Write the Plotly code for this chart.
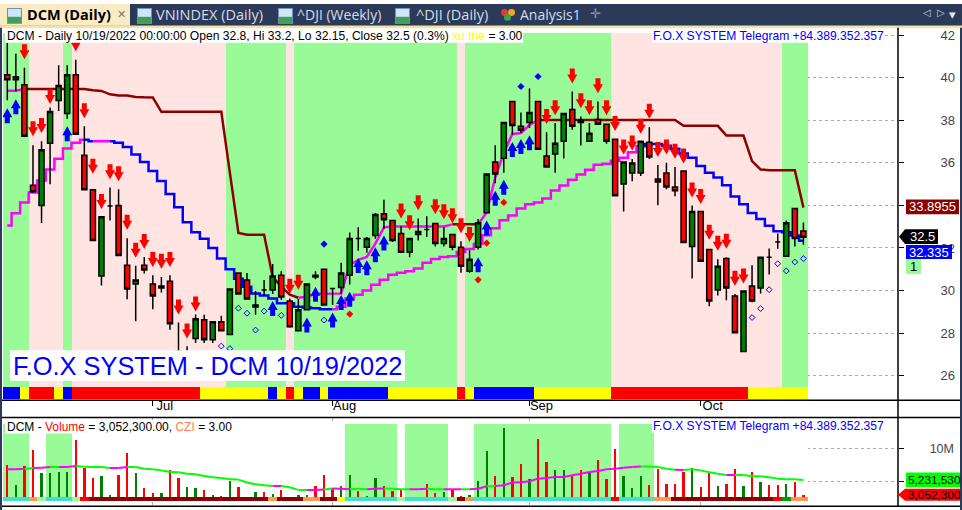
import plotly.graph_objects as go

# ---- price pane data, one entry per daily bar ----
opens = [40.14,39.9,39.67,34.95,33.99,36.92,38.93,38.32,40.14,36.36,34.73,30.68,33.97,33.99,31.19,30.3,31.19,30.3,30.12,30.44,
         27.15,26.7,27.74,28.62,27.69,28.53,27.93,30.82,30.49,29.23,30.02,30.02,30.72,29.51,28.11,29.09,30.72,31.0,30.1,30.14,
         30.72,32.45,32.03,32.59,33.61,33.29,32.68,31.8,32.63,32.87,33.15,32.21,32.63,32.03,30.91,32.03,33.66,36.04,36.22,38.88,
         37.72,37.9,38.88,36.32,36.41,37.02,38.51,38.0,37.02,38.04,37.81,37.11,35.01,35.52,35.52,36.97,35.24,35.52,34.87,35.62,
         32.07,33.71,31.93,30.02,31.51,29.74,27.13,30.21,30.12,31.56,32.28,31.61,33.85,32.8]
highs = [41.65,41.13,40.47,36.83,37.02,38.6,40.59,40.59,40.85,37.72,34.73,33.47,34.84,34.76,32.46,31.16,31.58,30.72,30.64,30.72,
         28.5,27.38,28.87,28.86,28.53,28.81,30.07,30.82,30.82,29.98,30.49,31.24,30.91,29.63,29.6,30.3,30.91,31.0,30.1,31.3,
         32.73,32.97,32.51,33.64,34.27,33.29,33.02,32.45,33.38,33.49,33.15,32.97,32.63,32.32,31.89,33.36,35.48,36.83,37.9,38.88,
         38.37,39.5,38.88,37.44,37.87,38.32,39.35,38.18,37.87,38.88,37.81,37.11,36.04,36.18,37.02,37.68,35.9,36.0,35.8,35.62,
         33.99,33.71,31.96,31.47,31.56,29.84,29.98,31.19,31.56,31.98,32.68,33.29,33.89,33.2]
lows = [38.94,39.36,37.25,34.6,33.17,34.99,38.44,38.07,37.34,34.73,32.35,30.24,33.29,31.65,29.59,28.56,30.8,29.12,29.91,28.16,
        26.5,26.5,27.53,27.53,27.53,28.11,27.93,29.84,29.6,28.86,29.74,29.84,29.56,28.25,28.11,29.09,30.53,29.32,29.32,29.85,
        30.28,31.87,31.78,32.43,32.9,32.28,31.8,31.56,32.35,32.51,32.07,32.07,31.89,30.84,30.84,31.93,33.66,35.04,35.54,37.32,
        37.4,37.64,36.64,35.8,35.54,36.2,37.56,36.81,37.02,37.81,36.9,34.45,33.71,35.13,35.38,36.18,34.01,34.76,34.43,32.26,
        30.56,31.38,29.26,29.77,29.54,28.02,27.13,29.45,29.86,30.75,31.96,31.61,32.07,32.15]
closes = [39.9,40.05,37.25,34.64,36.62,38.41,39.63,40.14,37.34,34.73,32.35,33.47,33.97,31.65,30.07,30.49,30.96,29.74,30.21,28.44,
          26.7,27.0,28.67,27.69,28.53,28.11,30.07,29.84,29.6,29.32,30.02,30.68,29.7,28.3,29.09,30.3,30.63,29.32,30.1,30.82,
          32.45,32.45,32.45,33.57,33.33,32.35,31.8,32.45,32.77,32.87,32.21,32.45,32.03,31.14,31.47,33.19,35.48,35.48,37.9,37.76,
          37.53,38.37,36.64,35.8,36.92,38.32,37.72,37.9,37.39,37.81,37.02,34.45,36.04,35.99,37.02,36.27,35.1,34.87,34.69,32.26,
          33.71,31.38,29.51,31.14,30.12,28.02,29.98,29.51,31.56,31.56,32.28,33.19,32.45,32.5]

lower_stop = [33.05,33.63,34.14,34.61,35.17,35.69,36.19,36.67,36.94,37.09,37.02,37.02,37.02,36.94,36.74,36.39,36.04,35.62,35.15,34.53,
              33.91,33.21,32.74,32.43,32.0,31.5,31.0,30.55,30.18,29.86,29.76,29.63,29.4,29.4,29.24,29.2,29.17,29.12,29.12,29.24,
              29.63,29.8,30.0,30.27,30.5,30.74,30.84,30.91,31.03,31.3,31.48,31.58,31.61,31.81,31.95,32.18,32.6,32.93,33.3,33.53,
              33.86,34.05,34.14,34.33,34.7,34.93,35.21,35.45,35.68,35.91,35.96,36.1,36.24,36.5,36.78,36.89,36.89,36.8,36.66,36.44,
              36.24,35.85,35.54,35.31,34.95,34.42,34.05,33.64,33.36,33.04,32.79,32.74,32.59,32.335]
upper_stop = [39.39,39.39,39.47,39.47,39.47,39.47,39.47,39.47,39.47,39.47,39.41,39.38,39.22,39.17,39.17,39.1,39.08,39.07,38.4,38.4,
              38.4,38.4,38.4,38.4,38.4,38.4,35.54,32.71,32.62,32.62,32.62,30.64,30.18,29.8,29.66,29.71,29.85,29.85,29.85,29.86,
              31.2,31.44,31.58,32.2,32.97,33.01,33.01,33.01,33.01,33.01,33.01,33.01,33.11,33.11,33.11,33.11,33.67,35.31,36.47,37.36,
              37.4,37.78,38.01,38.01,38.01,38.01,38.01,38.01,38.01,38.01,38.01,38.01,38.01,38.01,38.01,38.01,38.01,38.01,38.01,37.74,
              37.74,37.74,37.74,37.74,37.28,37.28,37.28,36.08,35.69,35.65,35.65,35.65,35.65,33.8955]

lower_runs = [(0, 9, "magenta"), (9, 10, "blue"), (10, 12, "magenta"), (12, 38, "blue"), (38, 74, "magenta"), (74, 93, "blue")]
upper_runs = [(0, 2, "magenta"), (2, 34, "#8B0000"), (34, 52, "magenta"), (52, 55, "#8B0000"), (55, 62, "magenta"), (62, 93, "#8B0000")]

# sell / buy arrows: bar index and price at the arrow tip
sell_bars = [2,3,4,5,8,9,10,11,12,13,14,15,16,17,18,19,20,21,22,33,34,46,47,48,50,51,52,53,54,63,64,66,67,68,69,70,71,72,73,74,75,76,77,78,79,80,81,82,83,84,85,86]
sell_tips = [40.87,37.25,37.4,38.77,41.24,38.1,35.49,33.83,35.23,35.13,32.85,31.54,31.95,31.11,31.02,31.11,28.87,27.75,29.01,29.85,30.04,33.39,32.83,33.77,33.58,33.35,33.16,32.69,32.28,37.82,38.24,39.73,38.57,38.24,39.27,38.24,37.5,36.39,36.58,37.37,38.07,36.28,36.39,36.19,35.97,34.37,34.06,32.38,31.87,31.96,30.22,30.33]
buy_bars = [0,1,7,31,35,36,38,39,40,41,42,43,44,55,56,57,58,59,60,61]
buy_tips = [38.57,38.99,37.72,29.51,28.73,30.18,28.97,29.79,29.94,31.53,31.42,32.03,32.59,31.56,33.29,34.69,35.2,36.98,37.12,37.3]

# small diamonds
open_bars = [25,26,27,28,29,30,32,37,87,88,89,90,91,92,93]
open_vals = [27.39,27.27,29.17,28.93,28.14,29.03,28.83,28.61,28.73,29.15,30.04,31.26,30.92,31.34,31.5]
blue_bars = [37,60,62]
blue_vals = [32.18,39.59,40.06]
red_bars = [40,55,56,58]
red_vals = [28.89,30.5,32.23,34.14]

# background band and bottom strip, one letter per bar
trend = "g"*3+"p"*4+"g"+"p"*18+"g"*7+"p"+"g"*19+"p"+"g"*17+"p"*20+"g"*3
state = "bb"+"y"+"rrr"+"y"+"b"+"r"*15+"y"*8+"b"+"y"+"r"+"y"+"bb"+"y"+"b"*7+"y"*8+"r"+"y"+"b"*7+"y"*9+"r"*16+"y"*7

# ---- volume pane data, in millions ----
volume = [7.62,4.59,7.47,9.9,6.41,6.41,6.56,6.56,11.41,7.17,5.65,5.96,2.93,6.11,9.44,6.41,3.99,3.23,3.23,6.87,
          5.65,4.14,3.99,3.68,2.93,2.77,5.2,4.14,2.42,3.38,3.38,3.08,3.68,2.67,2.93,2.93,4.29,6.11,4.09,4.44,
          6.11,3.53,2.77,5.65,4.29,3.53,3.83,2.62,2.47,4.74,3.23,3.38,3.83,2.77,2.93,5.2,9.74,5.96,13.23,5.8,
          7.77,5.5,11.56,8.08,6.87,6.87,5.96,6.87,6.56,8.38,5.5,10.05,5.96,3.99,5.96,4.59,7.02,4.74,4.74,6.56,
          7.17,4.14,6.41,4.44,4.74,7.02,4.44,6.56,5.05,4.59,4.59,4.74,4.9,3.05]
vol_up = [0,1,0,0,1,1,1,1,0,0,0,1,1,0,0,1,0,0,1,0,0,1,1,0,1,0,1,0,0,1,0,1,0,0,1,1,0,0,0,1,
          1,0,1,1,0,0,0,1,1,0,0,1,0,0,1,1,1,0,1,0,0,1,0,0,1,1,0,0,1,0,0,0,1,1,1,0,0,0,0,0,
          1,0,0,1,0,0,1,0,1,0,0,1,0,0]
vol_ma = [6.87,6.87,6.97,7.07,7.12,7.22,7.22,7.22,7.37,7.27,7.22,7.22,7.07,7.07,7.22,7.22,6.97,6.87,6.71,6.46,
          6.41,6.21,6.11,5.85,5.65,5.55,5.35,5.3,4.85,4.59,4.44,4.34,4.34,4.14,3.73,3.73,3.73,3.78,3.94,3.89,
          3.83,3.89,3.83,3.89,3.94,3.89,3.83,3.83,3.83,3.89,3.83,3.83,3.83,3.83,3.83,3.89,4.29,4.34,4.44,4.85,
          4.9,5.05,5.45,5.55,5.7,5.7,5.96,6.21,6.46,6.61,6.87,6.97,7.12,7.22,7.32,7.32,7.22,6.97,6.82,6.76,
          6.87,6.71,6.41,6.21,6.0,6.0,6.0,5.8,5.8,5.65,5.45,5.35,5.35,5.23]
ma_magenta = [(0,2),(3,5),(6,8),(12,14),(31,32),(35,37),(38,40),(42,44),(47,49),(51,53),(54,56),(57,74),(78,79),(84,85)]
patch = "g"*3+"w"*2+"g"*3+"w"*32+"g"*6+"w"+"g"*5+"w"*3+"g"*16+"w"+"g"*4+"w"*18
czi = "ttt"+"o"+"l"+"ttt"+"l"+"r"+"d"*21+"o"+"ddd"+"oo"+"dd"+"y"+"t"*6+"l"+"t"*5+"l"+"d"+"o"+"t"*16+"r"+"tttt"+"oo"+"d"*12+"r"+"G"+"oo"

month_bars = [17, 38, 61, 81]
month_names = ["Jul", "Aug", "Sep", "Oct"]
price_ticks = [26, 28, 30, 32, 34, 36, 38, 40, 42]
price_labels = ["26", "28", "30", "32", "", "36", "38", "40", "42"]

BAND = {"g": "#98FB98", "p": "#FFE4E1", "w": "#FFFFFF"}
STATE = {"b": "#0000FF", "y": "#FFFF00", "r": "#FF0000"}
CZI = {"t": "#40E0D0", "o": "#FF9A50", "l": "#98FB98", "r": "#FF0000", "d": "#8B0000", "y": "#FFFF00", "G": "#00A000"}
FONT = "Liberation Sans"
NAVY = "#2B3A58"

bars = list(range(94))
X_RANGE = [-0.502, 104.05]


def py(y):
    return 1 - y / 510


def rect(x0, y0, x1, y1, color):
    return dict(type="rect", xref="paper", yref="paper", x0=x0 / 962, x1=x1 / 962, y0=py(y0), y1=py(y1),
                fillcolor=color, line_width=0, layer="above")


def hline(x0, x1, y):
    return dict(type="line", xref="paper", yref="paper", x0=x0 / 962, x1=x1 / 962, y0=py(y), y1=py(y),
                line=dict(color="black", width=1.5), layer="above")


def label(x, y, text, color="black", size=12.1, anchor="left", family=FONT):
    return dict(xref="paper", yref="paper", x=x / 962, y=py(y), text=text, showarrow=False, xanchor=anchor,
                yanchor="middle", font=dict(family=family, size=size, color=color), xshift=0, borderpad=0)


def arrow(i, tip, path, color):
    return dict(type="path", xref="x", yref="y", xsizemode="pixel", ysizemode="pixel", xanchor=i, yanchor=tip,
                path=path, fillcolor=color, line_width=0, layer="above")


fig = go.Figure()

# background bands and state strip
fig.add_trace(go.Bar(x=bars, y=[17.25]*94, base=24.86, width=1, marker=dict(color=[BAND[c] for c in trend], line_width=0)))
fig.add_trace(go.Bar(x=bars, y=[0.57]*94, base=24.91, width=1, marker=dict(color=[STATE[c] for c in state], line_width=0)))

for a, b, color in lower_runs:
    fig.add_trace(go.Scatter(x=bars[a:b+1], y=lower_stop[a:b+1], mode="lines", line=dict(color=color, width=2.5, shape="hvh")))
for a, b, color in upper_runs:
    fig.add_trace(go.Scatter(x=bars[a:b+1], y=upper_stop[a:b+1], mode="lines", line=dict(color=color, width=2.5)))

# candles sit on an overlay axis so they cover the stop lines
fig.add_trace(go.Candlestick(x=bars, open=opens, high=highs, low=lows, close=closes, yaxis="y2", whiskerwidth=0,
                             increasing=dict(line=dict(color="black", width=1.5), fillcolor="#008000"),
                             decreasing=dict(line=dict(color="black", width=1.5), fillcolor="#FF0000")))

fig.add_trace(go.Scatter(x=open_bars, y=open_vals, yaxis="y3", mode="markers",
                         marker=dict(symbol="diamond-open", size=4.5, color="#0000FF", line=dict(width=1))))
fig.add_trace(go.Scatter(x=blue_bars, y=blue_vals, yaxis="y3", mode="markers", marker=dict(symbol="diamond", size=5.5, color="#0000FF")))
fig.add_trace(go.Scatter(x=red_bars, y=red_vals, yaxis="y3", mode="markers", marker=dict(symbol="diamond", size=5.5, color="#FF0000")))

# volume pane
fig.add_trace(go.Bar(x=bars, y=[11.81]*94, base=2.02, width=1, xaxis="x2", yaxis="y4",
                     marker=dict(color=[BAND[c] for c in patch], line_width=0)))
fig.add_trace(go.Bar(x=bars, y=[v - 2.02 for v in volume], base=2.02, width=0.27, xaxis="x2", yaxis="y4",
                     marker=dict(color=["#008000" if u else "#FF0000" for u in vol_up], line_width=0)))
fig.add_trace(go.Bar(x=bars, y=[0.6]*94, base=2.02, width=1, xaxis="x2", yaxis="y4",
                     marker=dict(color=[CZI[c] for c in czi], line_width=0)))

ma_color = ["#00FF00"]*93
for a, b in ma_magenta:
    for i in range(a, b):
        ma_color[i] = "magenta"
for color in ["#00FF00", "magenta"]:
    xs, ys = [], []
    for i in range(93):
        if ma_color[i] == color:
            xs += [i, i + 1, None]
            ys += [vol_ma[i], vol_ma[i + 1], None]
    fig.add_trace(go.Scatter(x=xs, y=ys, xaxis="x2", yaxis="y5", mode="lines", line=dict(color=color, width=2)))

shapes = []
for i, tip in zip(sell_bars, sell_tips):
    shapes.append(arrow(i, tip, "M0,0 L-5,9 L-2.5,9 L-2.5,15 L2.5,15 L2.5,9 L5,9 Z", "#FF0000"))
for i, tip in zip(buy_bars, buy_tips):
    shapes.append(arrow(i, tip, "M0,0 L-5,-9 L-2.5,-9 L-2.5,-15 L2.5,-15 L2.5,-9 L5,-9 Z", "#0000FF"))

# window chrome: tab strip, side strips, pane frames
shapes += [rect(0, 0, 962, 22, NAVY), rect(0, 22, 962, 24.5, "#F3E3A8"), rect(0, 0, 130, 22, "#FBEBC4"),
           rect(0, 24, 2, 510, NAVY), rect(960, 24, 962, 510, NAVY)]
for x in [7, 137, 278, 395]:
    shapes += [rect(x, 4, x + 15, 20, "#6F8FB8"), rect(x + 1, 5, x + 14, 13, "#CFE6F8"), rect(x + 1, 13, x + 14, 19, "#3FA04F")]
shapes += [dict(type="circle", xref="paper", yref="paper", x0=a/962, x1=(a+7)/962, y0=py(b+7), y1=py(b), fillcolor=c, line_width=0, layer="above")
           for a, b, c in [(501, 5, "#E53935"), (508, 5, "#F5A623"), (504, 10, "#3FA04F")]]
shapes += [hline(2, 960, 399.5), hline(2, 960, 416.8), hline(2, 960, 506.2)]
shapes.append(dict(type="line", xref="paper", yref="paper", x0=898/962, x1=898/962, y0=py(24), y1=py(506),
                   line=dict(color="black", width=1.5), layer="above"))

# white boxes behind the pane captions, drawn over the arrows
shapes += [rect(5, 25, 523, 39, "white"), rect(652, 25, 883, 39, "white"), rect(10, 349, 405, 380, "white"),
           rect(5, 419, 232, 433, "white"), rect(652, 419, 883, 432, "white")]

# last-value boxes on the price scale
shapes += [rect(906, 197, 959, 212, "#8B0000"), rect(906, 243, 952, 257, "#0000FF"), rect(906, 257, 921, 272, "#98FB98"),
           rect(906, 472.3, 960, 487, "#00FF00"), rect(905, 488.7, 960, 500.7, "#FF0000"), rect(905, 227, 938, 242, "black")]
shapes.append(dict(type="path", xref="paper", yref="paper", fillcolor="black", line_width=0, layer="above",
                   path=f"M {899/962} {py(234.5)} L {905/962} {py(227)} L {905/962} {py(242)} Z"))
shapes.append(dict(type="path", xref="paper", yref="paper", fillcolor="#FF0000", line_width=0, layer="above",
                   path=f"M {898/962} {py(494.7)} L {905/962} {py(488.7)} L {905/962} {py(500.7)} Z"))

TAB = "#D5DCE8"
annotations = [
    label(26, 11, "<b>DCM (Daily)</b>", size=14.5, family="Open Sans"),
    label(116, 10, "✕", color="#777777", size=11),
    label(155, 11, "VNINDEX (Daily)", color=TAB, size=14.5, family="Open Sans"),
    label(296, 11, "^DJI (Weekly)", color=TAB, size=14, family="Open Sans"),
    label(415, 11, "^DJI (Daily)", color=TAB, size=14.5, family="Open Sans"),
    label(519, 11, "Analysis1", color=TAB, size=14, family="Open Sans"),
    label(589, 10, "✛", color="#8A93A6", size=13),
    label(922, 9, "◁", color="#C8CEDA", size=10),
    label(936, 9, "▷", color="#C8CEDA", size=10),
    label(948, 11, "▾", color="#E4E8F0", size=13),
    label(6, 32, 'DCM - Daily 10/19/2022 00:00:00 Open 32.8, Hi 33.2, Lo 32.15, Close 32.5 (0.3%) '
                 '<span style="color:#FFFF00">xu the</span> = 3.00'),
    label(652, 32, "F.O.X SYSTEM Telegram +84.389.352.357", color="#0000FF"),
    label(12, 365, "F.O.X SYSTEM - DCM 10/19/2022", color="#0000FF", size=25.4),
    label(6, 426, 'DCM - <span style="color:#FF0000">Volume</span> = 3,052,300.00, <span style="color:#FF7F50">CZI</span> = 3.00', size=12),
    label(652, 425.5, "F.O.X SYSTEM Telegram +84.389.352.357", color="#0000FF"),
    label(957, 204.5, "33.8955", color="white", size=13, anchor="right"),
    label(936, 234.5, "32.5", color="white", size=13, anchor="right"),
    label(950, 250, "32.335", color="white", size=13, anchor="right"),
    label(913, 264.5, "1", size=13, anchor="center"),
    label(907, 479.7, "5,231,530", size=11.8),
    label(907, 494.7, "3,052,300", size=11.8),
]

fig.update_layout(
    width=962, height=510, margin=dict(l=0, r=0, t=0, b=0), paper_bgcolor="white", plot_bgcolor="white",
    showlegend=False, barmode="overlay", bargap=0, boxgap=0.15, shapes=shapes, annotations=annotations,
    font=dict(family=FONT, size=13, color="black"), hovermode=False,
    xaxis=dict(domain=[3/962, 898/962], range=X_RANGE, anchor="y", rangeslider_visible=False, tickmode="array",
               tickvals=month_bars, ticktext=month_names, ticks="outside", ticklen=5, tickcolor="black", ticklabelshift=12,
               ticklabelstandoff=-11, showgrid=False, zeroline=False, showline=False, tickfont=dict(size=13)),
    xaxis2=dict(domain=[3/962, 898/962], range=X_RANGE, anchor="y4", tickmode="array", tickvals=month_bars, showticklabels=False,
                showgrid=True, gridcolor="#AAAAAA", griddash="dot", zeroline=False, ticks=""),
    yaxis=dict(domain=[py(399), py(28)], range=[24.86, 42.16], side="right", anchor="x", tickmode="array", tickvals=price_ticks,
               showticklabels=False, ticks="outside", ticklen=5, tickcolor="black", showgrid=True, gridcolor="#AAAAAA",
               griddash="dot", zeroline=False),
    yaxis2=dict(domain=[py(399), py(28)], range=[24.86, 42.16], overlaying="y", side="right", showgrid=False, showticklabels=False,
                zeroline=False, ticks=""),
    yaxis3=dict(domain=[py(399), py(28)], range=[24.86, 42.16], overlaying="y", side="right", anchor="free", position=958/962,
                tickmode="array", tickvals=price_ticks, ticktext=price_labels, ticklabelposition="inside", ticklabeloverflow="allow",
                ticks="", showgrid=False, zeroline=False, showline=False, tickfont=dict(size=13)),
    yaxis4=dict(domain=[py(506), py(417)], range=[1.26, 14.76], side="right", anchor="x2", tickmode="array", tickvals=[5, 10],
                showticklabels=False, ticks="outside", ticklen=5, tickcolor="black", showgrid=True, gridcolor="#AAAAAA",
                griddash="dot", zeroline=False),
    yaxis5=dict(domain=[py(506), py(417)], range=[1.26, 14.76], overlaying="y4", side="right", anchor="free", position=957/962,
                tickmode="array", tickvals=[10], ticktext=["10M"], ticklabelposition="inside", ticklabeloverflow="allow", ticks="",
                showgrid=False, zeroline=False, showline=False, tickfont=dict(size=12.5)),
)

# drop the page margin so the figure fills the window
fig.write_html("out.html", config={"displayModeBar": False},
               post_script="document.body.style.margin='0';document.documentElement.style.overflow='hidden';")
